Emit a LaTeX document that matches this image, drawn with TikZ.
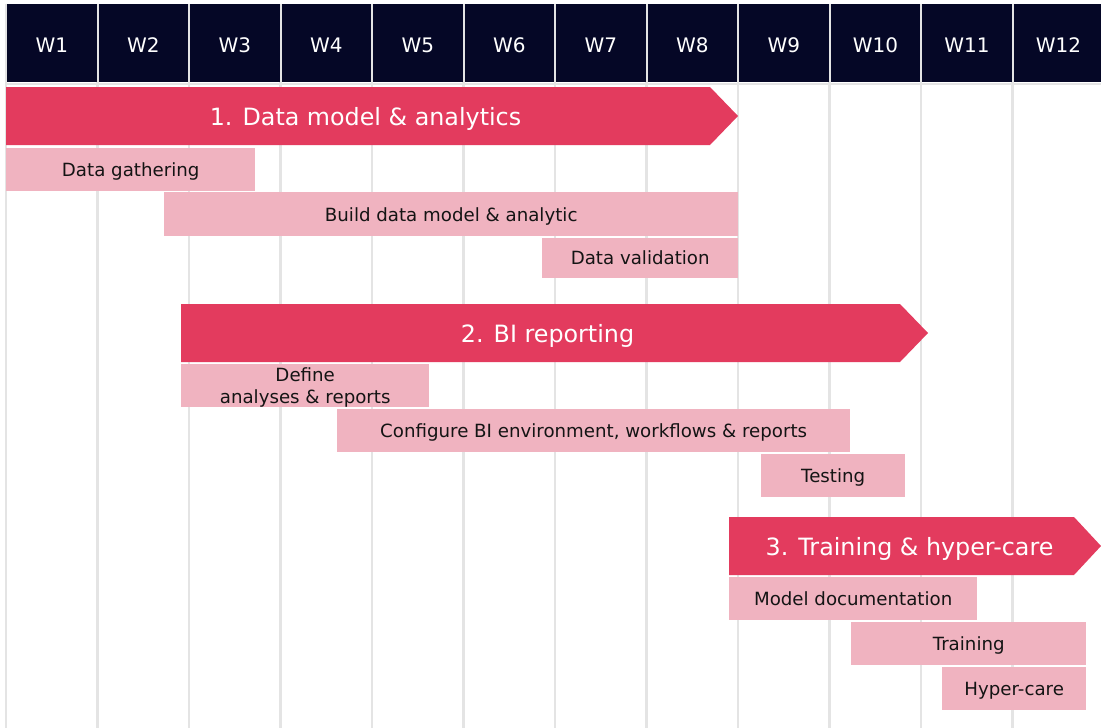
\documentclass[tikz,border=0pt]{standalone}
\usepackage{fontspec}
\setmainfont{DejaVu Sans}
\definecolor{navy}{HTML}{050726}
\definecolor{phasered}{HTML}{E33B5E}
\definecolor{taskpink}{HTML}{F0B3C0}
\definecolor{gridgray}{HTML}{E4E4E4}
\definecolor{inkdark}{HTML}{141414}
\begin{document}
\begin{tikzpicture}[x=1pt,y=-1pt,
  week/.style={rectangle, fill=navy, inner sep=0pt, anchor=north west,
    minimum width=89.1pt, minimum height=78pt, text=white,
    text height=18.6pt, text depth=0pt,
    font=\fontsize{20}{24}\selectfont},
  gridline/.style={draw=gridgray, line width=2.2pt},
  phase/.style={fill=phasered},
  phasetext/.style={text=white, inner sep=0pt, yshift=-2.5pt,
    font=\fontsize{23.8}{28}\selectfont},
  task/.style={rectangle, fill=taskpink, inner sep=0pt, anchor=north west,
    text=inkdark, text height=16pt, text depth=1.5pt,
    font=\fontsize{18.2}{22}\selectfont},
  taskbox/.style={rectangle, fill=taskpink, inner sep=0pt, anchor=north west},
  tasklabel/.style={inner sep=0pt, text=inkdark, align=center,
    font=\fontsize{18.2}{22}\selectfont}]
\useasboundingbox (0,0) rectangle (1101,728);
\fill[white] (0,0) rectangle (1101,728);

% week grid
\foreach \k in {0,...,11}
  \draw[gridline] ({6+91.5*\k},4) -- ({6+91.5*\k},728);
\draw[gridline] (6,84) -- (1101,84);

% week header cells
\foreach \k in {1,...,12}
  \node[week] (w\k) at ({6+91.5*(\k-1)+1.2},4) {W\k};

% phase 1
\fill[phase] (6,87) -- (710,87) -- (738,116) -- (710,145) -- (6,145) -- cycle;
\node[phasetext] (p1) at (365.5,116) {1. Data model \& analytics};
\node[task, minimum width=249pt, minimum height=43pt] (t1) at (6,147.5) {Data gathering};
\node[task, minimum width=574pt, minimum height=44pt] (t2) at (164,192) {Build data model \& analytic};
\node[task, minimum width=196pt, minimum height=40pt] (t3) at (542,237.5) {Data validation};

% phase 2
\fill[phase] (181,304) -- (900,304) -- (928,333) -- (900,362) -- (181,362) -- cycle;
\node[phasetext] (p2) at (547.5,333) {2. BI reporting};
\node[taskbox, minimum width=248pt, minimum height=43pt] (t4) at (181,364) {};
\node[tasklabel] (t4l) at ([yshift=-2pt]t4.center) {Define\\analyses \& reports};
\node[task, minimum width=513pt, minimum height=43pt] (t5) at (337,409) {Configure BI environment, workflows \& reports};
\node[task, minimum width=144pt, minimum height=43pt] (t6) at (761,454) {Testing};

% phase 3
\fill[phase] (729,517) -- (1074,517) -- (1101,546) -- (1074,575) -- (729,575) -- cycle;
\node[phasetext] (p3) at (909.5,546) {3. Training \& hyper-care};
\node[task, minimum width=248pt, minimum height=43pt] (t7) at (729,577) {Model documentation};
\node[task, minimum width=235pt, minimum height=43pt] (t8) at (851,622) {Training};
\node[task, minimum width=144pt, minimum height=43pt] (t9) at (942,667) {Hyper-care};
\end{tikzpicture}
\end{document}
